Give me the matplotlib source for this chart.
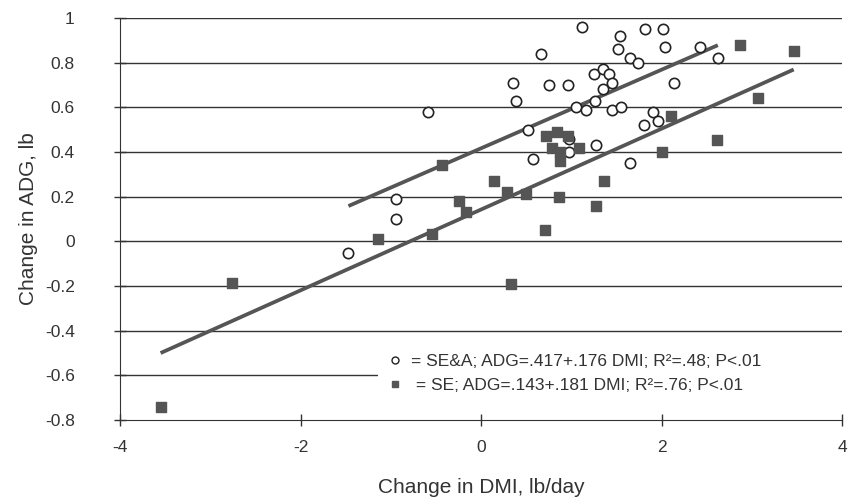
import matplotlib.pyplot as plt
from matplotlib.lines import Line2D

# SE&A (open circles)
sea_x = [-1.47, -0.94, -0.94, -0.59, 0.35, 0.38, 0.52, 0.57, 0.66, 0.75,
         0.96, 0.97, 0.97, 1.05, 1.12, 1.16, 1.25, 1.26, 1.27, 1.35,
         1.42, 1.45, 1.35, 1.45, 1.55, 1.52, 1.54, 1.65, 1.74, 1.65,
         1.80, 1.90, 1.96, 1.81, 2.01, 2.04, 2.14, 2.42, 2.62]
sea_y = [-0.05, 0.19, 0.10, 0.58, 0.71, 0.63, 0.50, 0.37, 0.84, 0.70,
         0.70, 0.40, 0.46, 0.60, 0.96, 0.59, 0.75, 0.63, 0.43, 0.77,
         0.75, 0.71, 0.68, 0.59, 0.60, 0.86, 0.92, 0.82, 0.80, 0.35,
         0.52, 0.58, 0.54, 0.95, 0.95, 0.87, 0.71, 0.87, 0.82]

# SE (filled squares)
se_x = [-3.55, -2.76, -1.14, -0.55, -0.43, -0.25, -0.17, 0.14, 0.29, 0.50,
        0.71, 0.33, 0.86, 1.27, 1.36, 0.72, 0.84, 0.96, 0.78, 0.87,
        0.87, 1.08, 2.00, 2.10, 2.61, 3.06, 2.86, 3.46]
se_y = [-0.74, -0.185, 0.01, 0.035, 0.34, 0.18, 0.13, 0.27, 0.22, 0.21,
        0.05, -0.19, 0.20, 0.16, 0.27, 0.47, 0.49, 0.47, 0.42, 0.40,
        0.36, 0.42, 0.40, 0.56, 0.455, 0.64, 0.88, 0.85]

# regression fits (intercept, slope)
sea_fit = (0.417, 0.176)
se_fit = (0.143, 0.181)

sea_label = "= SE&A; ADG=.417+.176 DMI; R²=.48; P<.01"
se_label = " = SE; ADG=.143+.181 DMI; R²=.76; P<.01"

plt.rcParams['font.family'] = ['Liberation Sans', 'DejaVu Sans']
plt.rcParams['axes.unicode_minus'] = False

fig = plt.figure(figsize=(8.52, 4.99), dpi=100)
ax = fig.add_axes([0.1408, 0.158, 0.848, 0.806])

for v in [-0.6, -0.4, -0.2, 0, 0.2, 0.4, 0.6, 0.8, 1.0]:
    ax.axhline(v, color='#333333', lw=1.0, zorder=1)

# fitted lines over the range of each group
x0, x1 = min(sea_x), max(sea_x)
ax.plot([x0, x1], [sea_fit[0] + sea_fit[1] * x0, sea_fit[0] + sea_fit[1] * x1],
        color='#555555', lw=2.7, solid_capstyle='butt', zorder=2)
x0, x1 = min(se_x), max(se_x)
ax.plot([x0, x1], [se_fit[0] + se_fit[1] * x0, se_fit[0] + se_fit[1] * x1],
        color='#555555', lw=2.7, solid_capstyle='butt', zorder=2)

ax.scatter(sea_x, sea_y, s=55, marker='o', facecolors='white',
           edgecolors='#222222', linewidths=1.2, zorder=3)
ax.scatter(se_x, se_y, s=58, marker='s', color='#555555', zorder=4)

ax.set_xlim(-4, 4)
ax.set_ylim(-0.8, 1.0)
ax.set_xticks([-4, -2, 0, 2, 4])
ax.set_yticks([-0.8, -0.6, -0.4, -0.2, 0, 0.2, 0.4, 0.6, 0.8, 1.0])
ax.set_yticklabels(['-0.8', '-0.6', '-0.4', '-0.2', '0', '0.2', '0.4', '0.6', '0.8', '1'])
ax.tick_params(axis='both', direction='inout', length=9, width=1, color='#333333',
               labelsize=12.5, labelcolor='#333333')
ax.tick_params(axis='y', pad=28)
ax.tick_params(axis='x', pad=10)
for s in ['top', 'right']:
    ax.spines[s].set_visible(False)
for s in ['left', 'bottom']:
    ax.spines[s].set_color('#333333')

ax.set_xlabel("Change in DMI, lb/day", fontsize=15, color='#333333', labelpad=16)
ax.set_ylabel("Change in ADG, lb", fontsize=15, color='#333333', labelpad=5)

handles = [
    Line2D([], [], marker='o', ls='none', markersize=5, markerfacecolor='white',
           markeredgecolor='#222222'),
    Line2D([], [], marker='s', ls='none', markersize=5, color='#555555'),
]
leg = ax.legend(handles, [sea_label, se_label], loc='lower left',
                bbox_to_anchor=(0.357, 0.045, 0.643, 0.2), mode='expand',
                borderaxespad=0, frameon=True, fontsize=12.5,
                handletextpad=0.4, labelspacing=0.55, borderpad=0.5,
                labelcolor='#333333', handlelength=1.0, fancybox=False)
leg.get_frame().set_facecolor('white')
leg.get_frame().set_edgecolor('none')
leg.get_frame().set_alpha(1)

fig.savefig('out.png', dpi=100)
